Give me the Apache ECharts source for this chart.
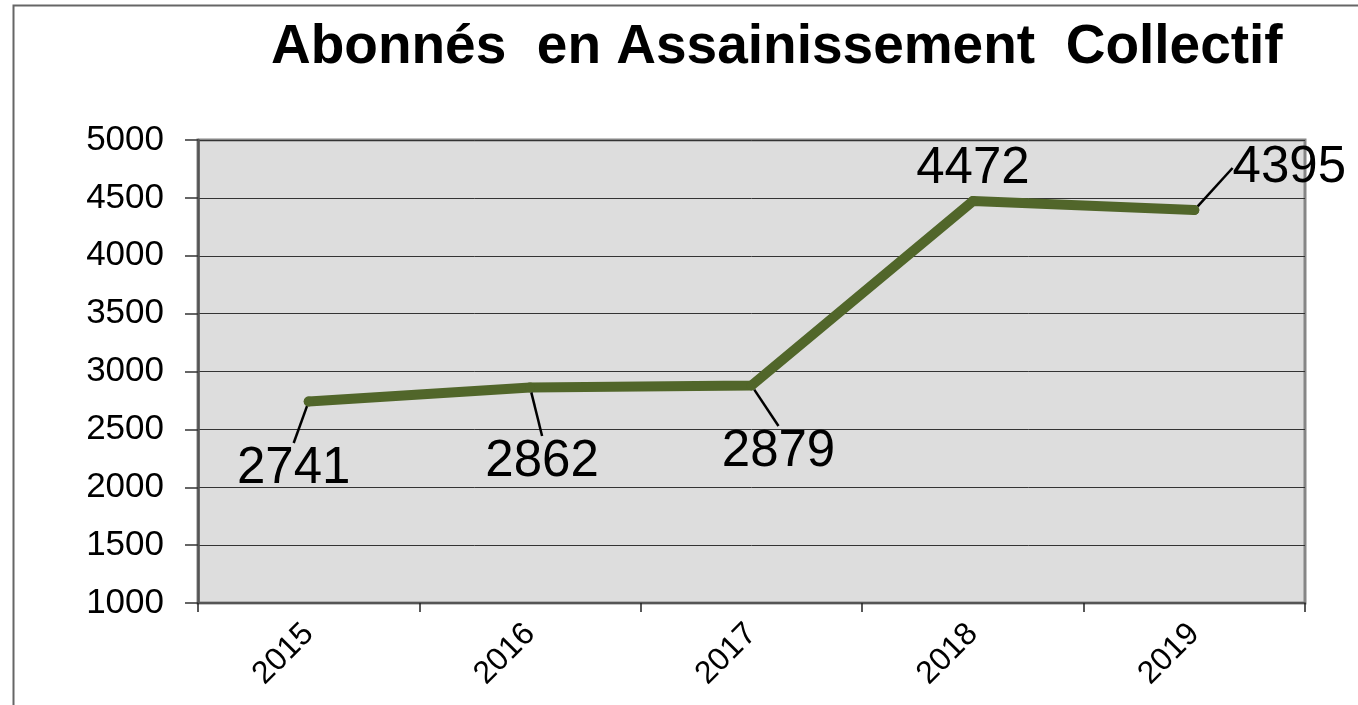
<!DOCTYPE html>
<html>
<head>
<meta charset="utf-8">
<script src="https://cdn.jsdelivr.net/npm/echarts@6/dist/echarts.min.js"></script>
<style>html,body{margin:0;padding:0;background:#fff;}#c{width:1358px;height:705px;}</style>
</head>
<body>
<div id="c"></div>
<script>
const titleText = 'Abonnés  en Assainissement  Collectif';
const categories = ['2015', '2016', '2017', '2018', '2019'];
const values = [2741, 2862, 2879, 4472, 4395];
const yTicks = [1000, 1500, 2000, 2500, 3000, 3500, 4000, 4500, 5000];

// label shifts (pixels) relative to each point, for the leader-line labels
const labelShift = [[-15, 67], [12, 74], [27, 66], [0, -32], [95, -42]];
const showGuide = [true, true, true, false, true];

const FONT = '"Liberation Sans", Arial, sans-serif';
const chart = echarts.init(document.getElementById('c'), null, {renderer: 'canvas'});
chart.setOption({
  backgroundColor: '#ffffff',
  animation: false,
  graphic: [{
    type: 'rect', left: 11, top: 3, shape: {width: 1400, height: 800},
    style: {fill: 'none', stroke: '#666666', lineWidth: 2}, silent: true, z: -1
  }],
  title: {
    text: titleText, left: 266, top: 15,
    textStyle: {fontFamily: FONT, fontSize: 55, fontWeight: 'bold', color: '#000'}
  },
  grid: {
    left: 198, top: 140, right: 53, bottom: 102,
    show: true, backgroundColor: '#DDDDDD', borderColor: '#868686', borderWidth: 3
  },
  xAxis: {
    type: 'category', data: categories, boundaryGap: true,
    axisLine: {show: true, lineStyle: {color: '#555555', width: 2}},
    axisTick: {show: true, length: 9, lineStyle: {color: '#222', width: 1.5}},
    axisLabel: {rotate: 45, fontFamily: FONT, fontSize: 32, color: '#000', margin: 26},
    splitLine: {show: false}
  },
  yAxis: {
    type: 'value', min: yTicks[0], max: yTicks[yTicks.length - 1], interval: 500,
    axisLine: {show: true, lineStyle: {color: '#555555', width: 2.5}},
    axisTick: {show: true, length: 13, lineStyle: {color: '#333', width: 1.5}},
    axisLabel: {fontFamily: FONT, fontSize: 35, color: '#000', margin: 34,
      formatter: function (v) { return String(v); }},
    splitLine: {show: true, lineStyle: {color: '#333333', width: 1}}
  },
  series: [{
    type: 'line',
    data: values.map(function (v, i) {
      return {value: v, labelLine: {show: showGuide[i]}};
    }),
    symbol: 'circle', symbolSize: 10, showSymbol: true,
    itemStyle: {color: '#51662A'},
    lineStyle: {color: '#51662A', width: 10, cap: 'round', join: 'round'},
    label: {
      show: true, position: 'inside', fontFamily: FONT, fontSize: 51, color: '#000'
    },
    labelLine: {show: true, lineStyle: {color: '#000', width: 2.5}},
    labelLayout: function (p) {
      const s = labelShift[p.dataIndex];
      return {dx: s[0], dy: s[1]};
    }
  }]
});
</script>
</body>
</html>
